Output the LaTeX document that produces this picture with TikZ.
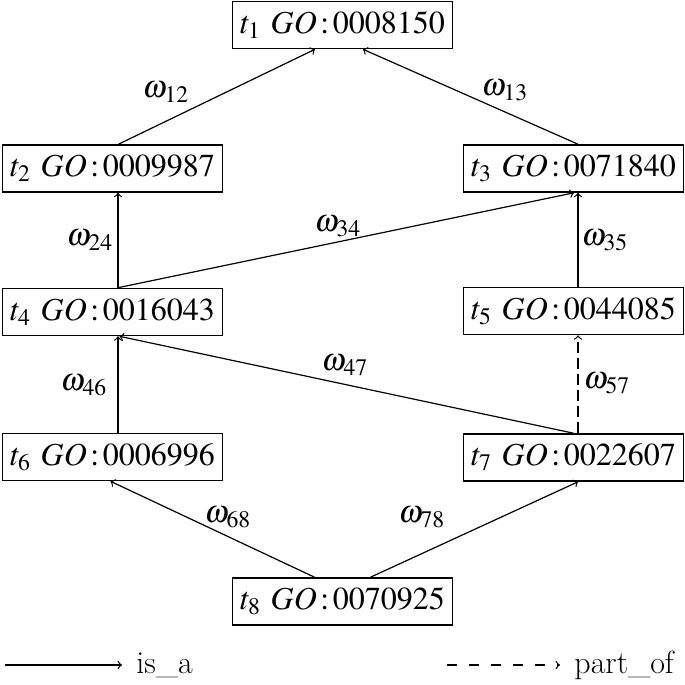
\documentclass[tikz,border=0pt]{standalone}
\usepackage{amsmath}
\usepackage{mathptmx}
\usepackage{tikz}
\pgfdeclarelayer{edgelayer}
\pgfdeclarelayer{nodelayer}
\pgfsetlayers{edgelayer,nodelayer,main}
\tikzstyle{none}=[inner sep=0pt]
\tikzstyle{term}=[draw, line width=0.8pt, minimum width=110pt, minimum height=23.5pt, inner sep=0pt]
\tikzstyle{isa}=[->, line width=0.6pt]
\tikzstyle{partof}=[->, line width=0.6pt, dash pattern=on 5.5pt off 2.5pt]

\begin{document}
\begin{tikzpicture}[x=0.5pt, y=-0.5pt, font=\fontsize{16}{19}\selectfont]
	\useasboundingbox (0,0) rectangle (685,685);
	\begin{pgfonlayer}{nodelayer}
		\node [style=term] (1) at (342.5, 25) {$t_1\ GO\,{:}\,0008150$};
		\node [style=term] (2) at (112.5, 168.5) {$t_2\ GO\,{:}\,0009987$};
		\node [style=term] (3) at (573.5, 168.5) {$t_3\ GO\,{:}\,0071840$};
		\node [style=term] (4) at (112.5, 312) {$t_4\ GO\,{:}\,0016043$};
		\node [style=term] (5) at (573.5, 311) {$t_5\ GO\,{:}\,0044085$};
		\node [style=term] (6) at (112.5, 457) {$t_6\ GO\,{:}\,0006996$};
		\node [style=term] (7) at (573.5, 457.5) {$t_7\ GO\,{:}\,0022607$};
		\node [style=term] (8) at (342.5, 601.5) {$t_8\ GO\,{:}\,0070925$};
		\node [style=none] (12) at (166, 92) {$\omega_{12}$};
		\node [style=none] (13) at (505, 90) {$\omega_{13}$};
		\node [style=none] (24) at (90, 240) {$\omega_{24}$};
		\node [style=none] (34) at (338, 226) {$\omega_{34}$};
		\node [style=none] (35) at (605, 240) {$\omega_{35}$};
		\node [style=none] (46) at (84, 385) {$\omega_{46}$};
		\node [style=none] (47) at (345, 365) {$\omega_{47}$};
		\node [style=none] (57) at (607, 383) {$\omega_{57}$};
		\node [style=none] (68) at (228, 517) {$\omega_{68}$};
		\node [style=none] (78) at (422, 517) {$\omega_{78}$};
		\coordinate (a0) at (5, 665);
		\coordinate (a1) at (122, 665);
		\node [style=none, anchor=west] (a2) at (136, 665) {is\_a};
		\coordinate (b0) at (447, 665);
		\coordinate (b1) at (560, 665);
		\node [style=none, anchor=west] (b2) at (574, 665) {part\_of};
	\end{pgfonlayer}
	\begin{pgfonlayer}{edgelayer}
		\draw [style=isa] ([xshift=3pt]2.north) to ([xshift=-13.75pt]1.south);
		\draw [style=isa] ([xshift=2.25pt]3.north) to ([xshift=10.25pt]1.south);
		\draw [style=isa] ([xshift=2.75pt]4.north) to ([xshift=2.75pt]2.south);
		\draw [style=isa] ([xshift=2.75pt]4.north) to ([xshift=0.25pt]3.south);
		\draw [style=isa] ([xshift=2.25pt]5.north) to ([xshift=2.25pt]3.south);
		\draw [style=isa] ([xshift=2.75pt]6.north) to ([xshift=2.75pt]4.south);
		\draw [style=isa] (7.north) to ([xshift=3.5pt]4.south);
		\draw [style=partof] ([xshift=2.25pt]7.north) to ([xshift=2.25pt]5.south);
		\draw [style=isa] ([xshift=-14pt]8.north) to ([xshift=-1pt]6.south);
		\draw [style=isa] ([xshift=14pt]8.north) to ([xshift=2.25pt]7.south);
		\draw [style=isa] (a0) to (a1);
		\draw [style=partof, dash pattern=on 5pt off 6pt] (b0) to (b1);
	\end{pgfonlayer}
\end{tikzpicture}
\end{document}
